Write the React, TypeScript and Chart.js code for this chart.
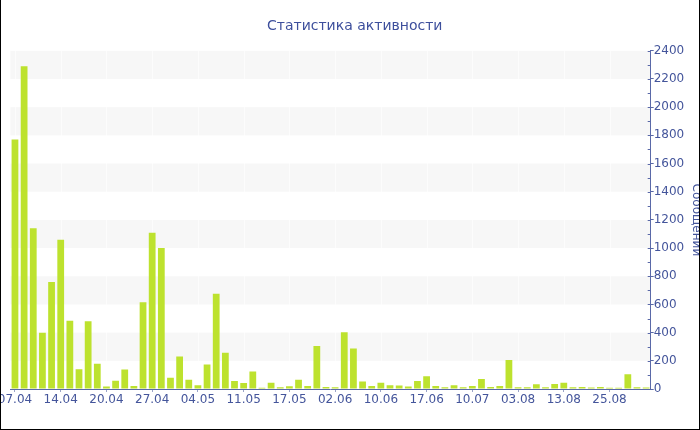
import React, { useEffect, useRef } from 'react';
import { Chart, registerables } from 'chart.js';

Chart.register(...registerables);

const categories: string[] = [
  '07.04', '08.04', '09.04', '11.04', '12.04',
  '14.04', '15.04', '16.04', '18.04', '19.04',
  '20.04', '21.04', '23.04', '24.04', '26.04',
  '27.04', '28.04', '29.04', '01.05', '02.05',
  '04.05', '05.05', '07.05', '08.05', '09.05',
  '11.05', '12.05', '13.05', '15.05', '16.05',
  '17.05', '19.05', '22.05', '26.05', '30.05',
  '02.06', '03.06', '04.06', '06.06', '08.06',
  '10.06', '11.06', '13.06', '14.06', '16.06',
  '17.06', '20.06', '24.06', '29.06', '04.07',
  '10.07', '15.07', '21.07', '27.07', '31.07',
  '03.08', '05.08', '07.08', '09.08', '11.08',
  '13.08', '15.08', '18.08', '21.08', '23.08',
  '25.08', '27.08', '29.08', '31.08', '02.09',
];

const messages: number[] = [
  1770, 2290, 1140, 400, 760,
  1060, 485, 140, 480, 180,
  17, 59, 139, 21, 615,
  1108, 1001, 80, 231, 66,
  26, 174, 676, 257, 57,
  42, 125, 9, 45, 12,
  19, 66, 21, 306, 14,
  12, 403, 288, 54, 21,
  45, 26, 24, 17, 57,
  90, 21, 12, 26, 12,
  21, 71, 14, 21, 206,
  12, 12, 33, 12, 35,
  45, 12, 14, 11, 14,
  9, 9, 104, 12, 11,
];

const tickEvery = 5;
const yMax = 2400;
const yStep = 200;
const minorStep = 100;

const titleText = 'Статистика активности';
const yTitleText = 'Сообщений';

const AXIS = '#5a69a8';
const TEXT = '#44559b';
const TITLE = '#3d4f9c';
const FONT = 'DejaVu Sans';

const bandsPlugin = {
  id: 'bands',
  beforeDraw(chart: any) {
    const { ctx, chartArea: a, scales } = chart;
    const y = scales.y;
    const x = scales.x;
    ctx.save();
    ctx.fillStyle = '#f7f7f7';
    for (let v = yStep; v < yMax; v += 2 * yStep) {
      const top = y.getPixelForValue(v + yStep);
      const bot = y.getPixelForValue(v);
      ctx.fillRect(a.left, top, a.right - a.left, bot - top);
    }
    ctx.strokeStyle = 'rgba(255,255,255,0.6)';
    ctx.lineWidth = 1;
    for (let i = 0; i < categories.length; i += tickEvery) {
      const px = Math.round(x.getPixelForValue(i)) + 0.5;
      ctx.beginPath();
      ctx.moveTo(px, a.top);
      ctx.lineTo(px, a.bottom);
      ctx.stroke();
    }
    ctx.restore();
  },
  afterDraw(chart: any) {
    const { ctx, scales } = chart;
    const y = scales.y;
    const ax = y.left;
    ctx.save();
    ctx.strokeStyle = AXIS;
    ctx.lineWidth = 1;
    for (let v = 0; v <= yMax; v += minorStep) {
      const py = Math.round(y.getPixelForValue(v)) + 0.5;
      ctx.beginPath();
      ctx.moveTo(ax - 3, py);
      ctx.lineTo(ax, py);
      ctx.stroke();
    }
    ctx.restore();
  },
};

export default function App() {
  const ref = useRef<HTMLCanvasElement | null>(null);

  useEffect(() => {
    if (!ref.current) return;
    const font = { family: FONT, size: 12 };
    const chart = new Chart(ref.current, {
      type: 'bar',
      data: {
        labels: categories,
        datasets: [
          {
            data: messages,
            backgroundColor: '#bde22e',
            borderWidth: 0,
            categoryPercentage: 1,
            barPercentage: 0.74,
          },
        ],
      },
      options: {
        animation: false,
        responsive: false,
        layout: { padding: { left: 9.4, right: 0, top: 0, bottom: 20.6 } },
        plugins: {
          legend: { display: false },
          tooltip: { enabled: false },
          title: {
            display: true,
            text: titleText,
            color: TITLE,
            font: { family: FONT, size: 14, weight: 'normal' },
            padding: { top: 18, bottom: 16 },
          },
        },
        scales: {
          x: {
            offset: true,
            grid: {
              display: true,
              offset: false,
              drawOnChartArea: false,
              drawTicks: true,
              tickLength: 3,
              color: (c: any) => (c.index % tickEvery === 0 ? '#9aa3c8' : 'rgba(0,0,0,0)'),
            },
            border: { display: true, color: AXIS, width: 1 },
            ticks: {
              autoSkip: false,
              maxRotation: 0,
              minRotation: 0,
              padding: 1,
              color: TEXT,
              font,
              callback: (_v: any, i: number) => (i % tickEvery === 0 ? categories[i] : ''),
            },
            afterFit: (s: any) => {
              s.paddingLeft = 0;
              s.paddingRight = 0;
            },
          },
          y: {
            position: 'right',
            min: 0,
            max: yMax,
            ticks: {
              stepSize: yStep,
              padding: 0,
              color: TEXT,
              font,
              callback: (v: any) => String(v),
            },
            grid: { drawOnChartArea: false, tickLength: 3, color: AXIS },
            border: { color: AXIS, width: 1 },
            title: {
              display: true,
              text: yTitleText,
              color: TEXT,
              font,
              padding: { top: -4.4, bottom: 0 },
            },
            afterFit: (s: any) => {
              s.width = 48.3;
              s.paddingTop = 0;
              s.paddingBottom = 0;
            },
          },
        },
      },
      plugins: [bandsPlugin],
    } as any);
    return () => chart.destroy();
  }, []);

  return (
    <div
      style={{
        position: 'fixed',
        left: 0,
        top: 0,
        width: 700,
        height: 430,
        boxSizing: 'border-box',
        borderLeft: '1px solid #000',
        borderRight: '1px solid #000',
        borderBottom: '1px solid #000',
        background: '#fff',
        overflow: 'hidden',
      }}
    >
      <canvas ref={ref} width={698} height={429} style={{ display: 'block' }} />
    </div>
  );
}
